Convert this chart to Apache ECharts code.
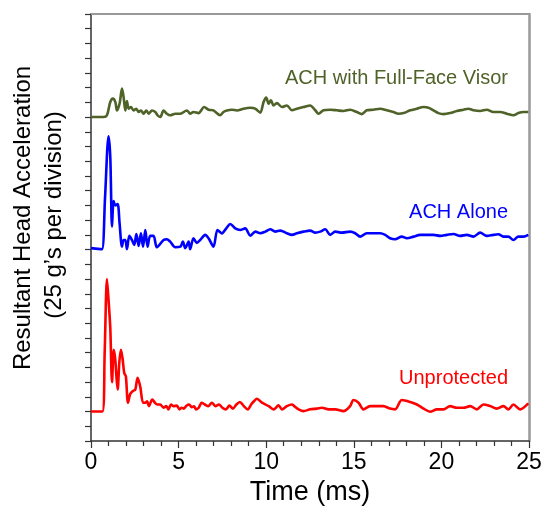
<!DOCTYPE html>
<html>
<head>
<meta charset="utf-8">
<script src="https://cdn.jsdelivr.net/npm/echarts@6/dist/echarts.min.js"></script>
<style>
html,body{margin:0;padding:0;background:#fff;}
#chart{width:545px;height:518px;}
</style>
</head>
<body>
<div id="chart"></div>
<script>
// Values in divisions (25 g's per division), time in ms
const xTicks = [0, 5, 10, 15, 20, 25];
const seriesNames = ['ACH with Full-Face Visor', 'ACH Alone', 'Unprotected'];

const visor = [[0,22.0],[0.34,22.0],[0.72,22.0],[0.91,22.12],[1.1,23.02],[1.25,23.25],[1.39,23.02],[1.48,22.45],[1.63,22.9],[1.77,23.93],[1.86,23.36],[1.96,22.45],[2.05,23.09],[2.15,22.57],[2.28,22.68],[2.43,22.45],[2.59,22.57],[2.72,22.34],[2.85,22.45],[3.0,22.23],[3.16,22.45],[3.29,22.23],[3.48,22.45],[3.67,22.34],[3.8,22.12],[3.96,22.0],[4.14,22.45],[4.33,22.23],[4.52,22.12],[4.81,22.23],[5.1,22.23],[5.47,22.45],[5.66,22.23],[5.85,22.34],[6.14,22.27],[6.46,22.68],[6.71,22.5],[6.99,22.45],[7.37,22.12],[7.56,22.34],[7.76,22.45],[8.04,22.5],[8.33,22.45],[8.71,22.57],[9.09,22.63],[9.37,22.57],[9.66,22.3],[9.85,23.02],[10.0,23.32],[10.14,22.91],[10.27,23.14],[10.42,22.79],[10.61,22.95],[10.9,22.68],[11.18,22.79],[11.47,22.46],[11.75,22.57],[12.13,22.68],[12.51,22.79],[12.8,22.46],[12.99,22.23],[13.27,22.46],[13.65,22.5],[14.03,22.46],[14.41,22.41],[14.79,22.5],[15.17,22.34],[15.46,22.2],[15.74,22.46],[16.12,22.5],[16.5,22.57],[16.88,22.46],[17.26,22.34],[17.55,22.23],[17.84,22.27],[18.22,22.46],[18.6,22.57],[18.98,22.68],[19.26,22.64],[19.55,22.46],[19.83,22.27],[20.12,22.2],[20.5,22.27],[20.88,22.41],[21.26,22.5],[21.54,22.57],[21.83,22.46],[22.21,22.41],[22.59,22.5],[22.97,22.34],[23.35,22.34],[23.73,22.23],[24.11,22.12],[24.39,22.27],[24.68,22.34],[24.96,22.34]];

const alone = [[0,13.1],[0.4,13.05],[0.63,13.03],[0.8,16.5],[1.0,20.7],[1.1,19.3],[1.2,14.56],[1.29,16.3],[1.39,16.0],[1.52,16.1],[1.63,14.79],[1.77,13.2],[1.86,13.65],[1.96,13.65],[2.05,13.03],[2.19,13.93],[2.34,13.65],[2.47,13.32],[2.59,14.06],[2.72,13.25],[2.85,14.1],[2.97,13.2],[3.1,14.33],[3.23,13.2],[3.38,13.93],[3.57,13.93],[3.76,13.16],[4.14,13.65],[4.33,13.7],[4.52,13.54],[4.81,13.16],[5.1,13.2],[5.24,13.54],[5.38,13.1],[5.57,13.54],[5.66,13.03],[5.85,13.77],[6.04,13.45],[6.23,13.65],[6.52,14.0],[6.71,13.77],[6.99,13.2],[7.22,14.33],[7.47,14.1],[7.72,14.44],[7.95,14.74],[8.23,14.44],[8.52,14.33],[8.8,14.44],[9.09,13.95],[9.38,14.22],[9.66,14.11],[9.95,14.22],[10.23,14.38],[10.52,14.22],[10.8,14.29],[11.18,14.11],[11.47,14.0],[11.75,14.11],[12.13,14.22],[12.51,14.29],[12.8,14.15],[13.08,14.22],[13.37,14.38],[13.65,14.0],[13.94,14.22],[14.32,14.15],[14.79,14.22],[15.08,14.11],[15.36,13.88],[15.74,14.11],[16.12,14.11],[16.5,14.11],[16.79,14.0],[17.07,13.77],[17.36,13.7],[17.74,13.88],[18.03,13.77],[18.41,13.88],[18.79,14.0],[19.17,14.0],[19.55,14.0],[19.93,13.93],[20.31,14.0],[20.69,14.06],[21.07,13.93],[21.45,14.0],[21.83,13.88],[22.21,14.15],[22.59,13.93],[22.97,14.0],[23.25,14.04],[23.54,13.88],[23.82,13.88],[24.11,13.65],[24.39,13.88],[24.68,13.88],[24.96,14.0]];

const unprotected = [[0,2.0],[0.3,2.0],[0.65,2.0],[0.78,6.0],[0.91,11.0],[1.0,9.6],[1.1,7.7],[1.2,4.0],[1.3,6.2],[1.38,5.6],[1.45,4.4],[1.52,3.5],[1.62,5.4],[1.71,6.2],[1.8,5.6],[1.9,4.6],[1.99,4.4],[2.11,2.6],[2.24,3.2],[2.4,3.4],[2.53,3.5],[2.66,4.3],[2.81,3.7],[2.97,2.6],[3.09,2.6],[3.2,2.7],[3.3,2.37],[3.5,2.82],[3.65,2.6],[3.78,2.48],[3.95,2.48],[4.14,2.26],[4.3,2.37],[4.42,2.15],[4.57,2.48],[4.7,2.37],[4.9,2.4],[5.05,2.15],[5.18,2.26],[5.3,2.2],[5.45,2.4],[5.6,2.48],[5.75,2.3],[5.88,2.35],[6.0,2.15],[6.15,2.26],[6.32,2.6],[6.5,2.48],[6.7,2.37],[6.9,2.6],[7.1,2.37],[7.3,2.48],[7.5,2.26],[7.7,2.15],[7.9,2.4],[8.1,2.2],[8.3,2.48],[8.5,2.65],[8.7,2.4],[8.95,2.15],[9.15,2.5],[9.3,2.7],[9.47,2.87],[9.76,2.6],[10.14,2.37],[10.42,2.15],[10.71,2.42],[10.9,2.15],[11.18,2.37],[11.47,2.48],[11.6,2.37],[11.85,2.15],[12.13,2.03],[12.51,2.15],[12.89,2.2],[13.18,2.26],[13.56,2.15],[13.94,2.15],[14.41,2.03],[14.79,2.37],[14.98,2.78],[15.27,2.6],[15.55,2.15],[15.93,2.37],[16.31,2.37],[16.69,2.37],[17.07,2.2],[17.36,2.15],[17.74,2.78],[18.22,2.65],[18.6,2.48],[18.98,2.2],[19.36,1.99],[19.74,2.15],[20.12,2.15],[20.5,2.37],[20.88,2.26],[21.26,2.26],[21.64,2.37],[22.02,2.15],[22.4,2.48],[22.78,2.37],[23.16,2.2],[23.54,2.37],[23.82,2.15],[24.11,2.48],[24.49,2.15],[24.96,2.55]];

const colors = ['#4f6228', '#0000ff', '#ff0000'];
const FONT = '"Liberation Sans", Arial, sans-serif';

const chart = echarts.init(document.getElementById('chart'), null, {renderer: 'canvas'});
chart.setOption({
  animation: false,
  backgroundColor: '#ffffff',
  grid: {left: 91, right: 16, top: 14, bottom: 77, containLabel: false},
  xAxis: [{
    type: 'value', min: xTicks[0], max: xTicks[xTicks.length - 1], interval: 5,
    axisLine: {show: true, onZero: false, lineStyle: {color: '#333', width: 1.5}},
    axisTick: {show: true, length: 7, lineStyle: {color: '#333', width: 1.2}},
    minorTick: {show: true, splitNumber: 5, length: 5, lineStyle: {color: '#333', width: 1.2}},
    axisLabel: {fontSize: 23, color: '#000', fontFamily: FONT, margin: 10},
    splitLine: {show: false},
    name: 'Time (ms)', nameLocation: 'middle', nameGap: 38,
    nameTextStyle: {fontSize: 27, color: '#000', fontFamily: FONT}
  }, {
    type: 'value', position: 'top', min: 0, max: 25,
    axisLine: {show: true, onZero: false, lineStyle: {color: '#999', width: 2}},
    axisTick: {show: false}, axisLabel: {show: false}, splitLine: {show: false}
  }],
  yAxis: [{
    type: 'value', min: 0, max: 29, interval: 1,
    axisLine: {show: true, onZero: false, lineStyle: {color: '#333', width: 1.5}},
    axisTick: {show: true, length: 6, lineStyle: {color: '#333', width: 1.2}},
    axisLabel: {show: false},
    splitLine: {show: false}
  }, {
    type: 'value', position: 'right', min: 0, max: 29,
    axisLine: {show: true, onZero: false, lineStyle: {color: '#999', width: 2.5}},
    axisTick: {show: false}, axisLabel: {show: false}, splitLine: {show: false}
  }],
  series: [visor, alone, unprotected].map((d, i) => ({
    name: seriesNames[i], type: 'line', data: d, xAxisIndex: 0, yAxisIndex: 0,
    showSymbol: false, smooth: 0.3,
    lineStyle: {color: colors[i], width: 2.6},
    itemStyle: {color: colors[i]}
  })),
  graphic: [
    {type: 'text', x: 23, y: 218, rotation: Math.PI / 2,
     style: {text: 'Resultant Head Acceleration', fontSize: 24, fontFamily: FONT, fill: '#000', textAlign: 'center', textVerticalAlign: 'middle'}},
    {type: 'text', x: 54, y: 215, rotation: Math.PI / 2,
     style: {text: '(25 g\u2019s per division)', fontSize: 24, fontFamily: FONT, fill: '#000', textAlign: 'center', textVerticalAlign: 'middle'}},
    {type: 'text', x: 508, y: 78,
     style: {text: seriesNames[0], fontSize: 20, fontFamily: FONT, fill: colors[0], textAlign: 'right', textVerticalAlign: 'middle'}},
    {type: 'text', x: 508, y: 212,
     style: {text: seriesNames[1], fontSize: 20, fontFamily: FONT, fill: colors[1], textAlign: 'right', textVerticalAlign: 'middle'}},
    {type: 'text', x: 508, y: 378,
     style: {text: seriesNames[2], fontSize: 20, fontFamily: FONT, fill: colors[2], textAlign: 'right', textVerticalAlign: 'middle'}}
  ]
});
</script>
</body>
</html>
